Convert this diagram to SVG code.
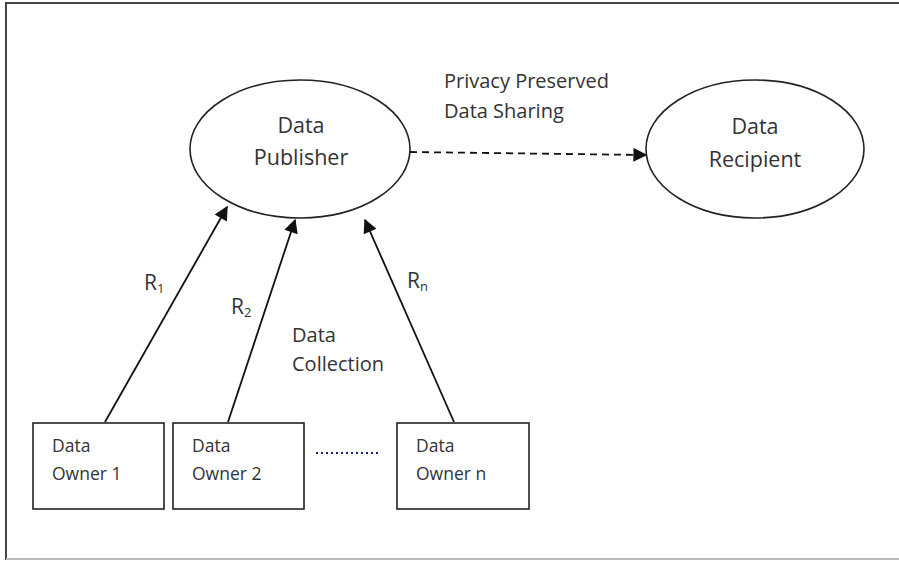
<svg xmlns="http://www.w3.org/2000/svg" width="899" height="561" viewBox="0 0 899 561">
<defs>
<style>
text{font-family:"Open Sans","Liberation Sans",sans-serif;fill:#333}
.big{font-size:21.5px;text-anchor:middle}
.mid{font-size:20px}
.r{font-size:21px}
.sm{font-size:17.5px}
.node{fill:#fff;stroke:#222;stroke-width:1.6}
.edge{stroke:#111;stroke-width:1.8;fill:none}
</style>
<marker id="ahb" viewBox="0 0 10 10" refX="9" refY="5" markerWidth="16" markerHeight="14" markerUnits="userSpaceOnUse" orient="auto">
<path d="M0,0 L10,5 L0,10 z" fill="#111"/>
</marker>
</defs>
<rect width="899" height="561" fill="#fff"/>
<path d="M6,560 V3 H899" fill="none" stroke="#444" stroke-width="2"/>
<line x1="6" y1="559" x2="899" y2="559" stroke="#bbb" stroke-width="2"/>

<g id="publisher">
<ellipse class="node" cx="300" cy="149" rx="110" ry="69"/>
<text class="big" x="301" y="133">Data</text>
<text class="big" x="301" y="165">Publisher</text>
</g>
<g id="recipient">
<ellipse class="node" cx="755" cy="149" rx="109" ry="69"/>
<text class="big" x="755" y="134" font-size="24">Data</text>
<text class="big" x="755" y="167" font-size="24">Recipient</text>
</g>
<g id="owner1">
<rect class="node" x="33" y="423" width="131" height="86"/>
<text class="sm" x="52" y="452">Data</text>
<text class="sm" x="52" y="480">Owner 1</text>
</g>
<g id="owner2">
<rect class="node" x="173" y="423" width="131" height="86"/>
<text class="sm" x="192" y="452">Data</text>
<text class="sm" x="192" y="480">Owner 2</text>
</g>
<g id="ownern">
<rect class="node" x="397" y="423" width="132" height="86"/>
<text class="sm" x="416" y="452">Data</text>
<text class="sm" x="416" y="480">Owner n</text>
</g>
<line x1="316" y1="453" x2="378" y2="453" stroke="#1a2080" stroke-width="2" stroke-dasharray="2,3"/>

<g id="connectors">
<line class="edge" x1="105" y1="422" x2="227" y2="207" marker-end="url(#ahb)"/>
<line class="edge" x1="228" y1="422" x2="295" y2="220" marker-end="url(#ahb)"/>
<line class="edge" x1="454" y1="422" x2="365" y2="220" marker-end="url(#ahb)"/>
<line class="edge" x1="410" y1="152" x2="646" y2="155" stroke-dasharray="7,5" marker-end="url(#ahb)"/>
</g>

<text class="mid" x="444" y="88">Privacy Preserved</text>
<text class="mid" x="444" y="118">Data Sharing</text>
<text class="r" x="144" y="290">R<tspan font-size="13" dy="3">1</tspan></text>
<text class="r" x="231" y="314">R<tspan font-size="13" dy="3">2</tspan></text>
<text class="r" x="407" y="288">R<tspan font-size="13" dy="3">n</tspan></text>
<text class="mid" x="292" y="342">Data</text>
<text class="mid" x="292" y="371">Collection</text>
</svg>
